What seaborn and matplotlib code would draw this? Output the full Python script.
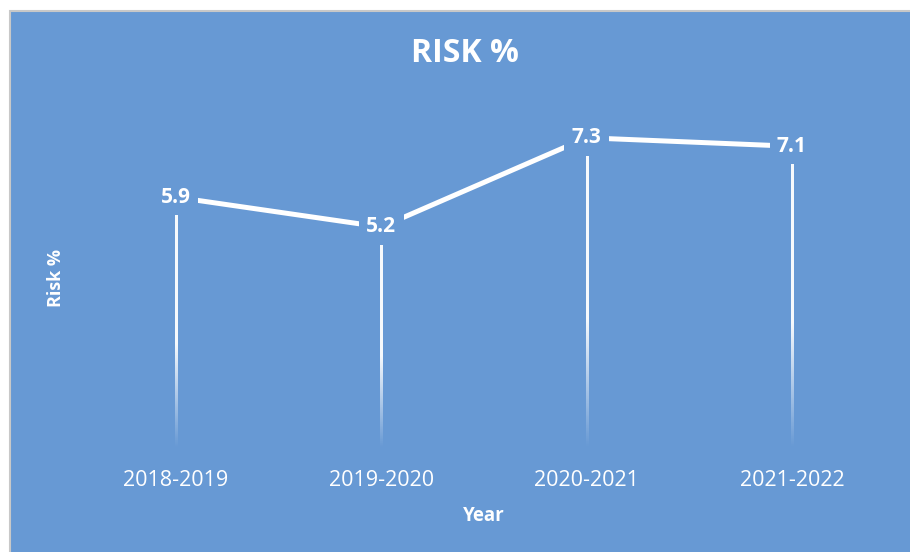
import numpy as np
import pandas as pd
import seaborn as sns
import matplotlib.pyplot as plt
from matplotlib.patches import Rectangle

years = ['2018-2019', '2019-2020', '2020-2021', '2021-2022']
risk = [5.9, 5.2, 7.3, 7.1]

bg = '#6799D4'
sns.set_theme(style='white')
plt.rcParams['font.family'] = ['Open Sans', 'DejaVu Sans']

df = pd.DataFrame({'Year': years, 'Risk %': risk})

fig = plt.figure(figsize=(9.1, 5.52), dpi=100)
fig.patch.set_facecolor('white')
# chart area with a light grey frame on the top and left edges
fig.patches.append(Rectangle((9.5 / 910, -0.05), 1.0, 541.5 / 552 + 0.05,
                             transform=fig.transFigure, facecolor=bg,
                             edgecolor='#c8c8c8', lw=1.5, zorder=-5))

ax = fig.add_axes([73.4 / 910, 104 / 552, 821.2 / 910, 340 / 552])
ax.set_facecolor(bg)
ax.patch.set_alpha(0)

sns.lineplot(data=df, x='Year', y='Risk %', sort=False, color='white',
             lw=3.6, ax=ax, zorder=3)

# fading drop lines (white -> transparent towards the axis)
half_w = 0.0055
for i, v in enumerate(risk):
    t = np.linspace(1, 0, 200)
    alpha = np.clip(t * 2.4, 0, 1) * 0.95
    img = np.ones((200, 1, 4))
    img[:, 0, 3] = alpha
    ax.imshow(img, extent=(i - half_w, i + half_w, 0, v), aspect='auto',
              interpolation='bilinear', zorder=2)

for i, v in enumerate(risk):
    ax.text(i, v, f'{v}', ha='center', va='center', color='white',
            fontsize=15, fontweight='bold', zorder=5,
            bbox=dict(boxstyle='square,pad=0.35', facecolor=bg, edgecolor='none'))

ax.set_xlim(-0.5, 3.5)
ax.set_ylim(0, 8)
ax.set_yticks([])
sns.despine(ax=ax, left=True, bottom=True)
ax.tick_params(axis='x', length=0, pad=15.5, labelsize=15.5, labelcolor='white')

ax.set_xlabel('Year', color='white', fontsize=13.5, fontweight='bold', labelpad=11)
ax.set_ylabel('Risk %', color='white', fontsize=13, fontweight='bold')
ax.yaxis.set_label_coords(-0.01, 0.5)

fig.text(465 / 910, 1 - 54 / 552, 'RISK %', ha='center', va='center', color='white',
         fontsize=23, fontweight='bold')

plt.savefig('out.png', dpi=100, facecolor=fig.get_facecolor())
